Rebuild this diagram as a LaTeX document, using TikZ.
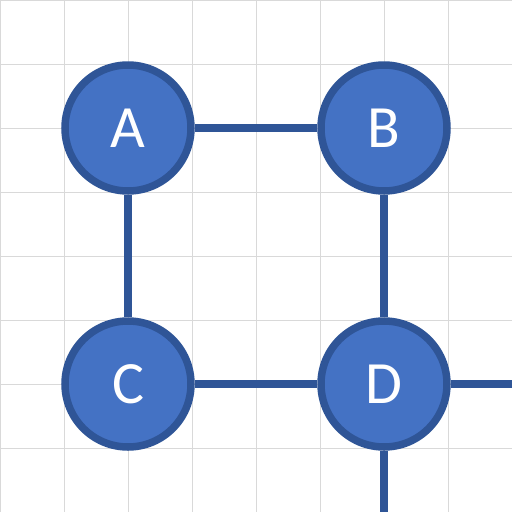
\documentclass[tikz,border=0pt]{standalone}
\usepackage{fontspec}
\setmainfont{Carlito}
\definecolor{nodefill}{HTML}{4472C4}
\definecolor{nodeline}{HTML}{2F5597}
\definecolor{gridgray}{HTML}{D9D9D9}
\begin{document}
\begin{tikzpicture}[x=1pt,y=-1pt,
  vertex/.style={circle,draw=nodeline,fill=nodefill,line width=7.5pt,
    minimum size=126pt,inner sep=0pt,text=white,font=\fontsize{60}{60}\selectfont},
  link/.style={draw=nodeline,line width=7.5pt},
  gridline/.style={draw=gridgray,line width=1pt}]
  \useasboundingbox (0,0) rectangle (512,512);
  \fill[white] (0,0) rectangle (512,512);
  % background grid, 64pt cells
  \foreach \k in {0,64,...,512} {
    \draw[gridline] (\k,0) -- (\k,512);
    \draw[gridline] (0,\k) -- (512,\k);
  }
  \node[vertex] (A) at (128,128) {A};
  \node[vertex] (B) at (384,128) {B};
  \node[vertex] (C) at (128,384) {C};
  \node[vertex] (D) at (384,384) {D};
  \coordinate (E) at (512,384);
  \coordinate (S) at (384,512);
  \draw[link] (A) -- (B);
  \draw[link] (A) -- (C);
  \draw[link] (B) -- (D);
  \draw[link] (C) -- (D);
  \draw[link] (D) -- (E);
  \draw[link] (D) -- (S);
\end{tikzpicture}
\end{document}
